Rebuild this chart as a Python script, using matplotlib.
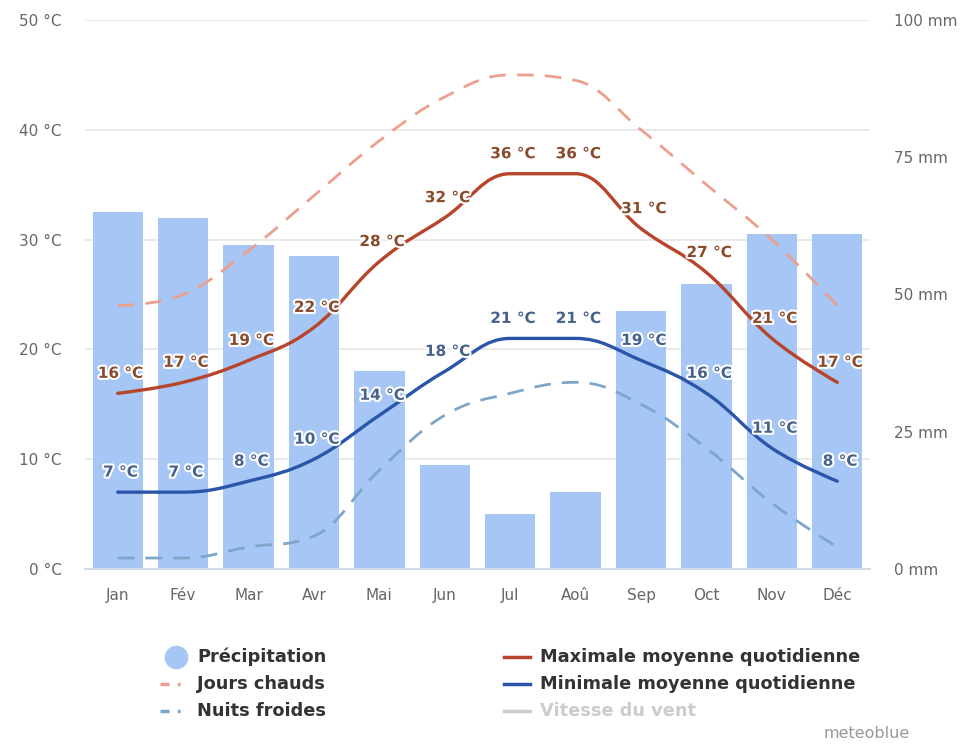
import matplotlib
matplotlib.use("Agg")
import matplotlib.pyplot as plt
from matplotlib.path import Path
from matplotlib.patches import PathPatch
from matplotlib.lines import Line2D
import matplotlib.patheffects as pe

# --- Climate data -------------------------------------------------------
months = ["Jan", "Fév", "Mar", "Avr", "Mai", "Jun",
          "Jul", "Aoû", "Sep", "Oct", "Nov", "Déc"]
precip_mm = [65, 64, 59, 57, 36, 19, 10, 14, 47, 52, 61, 61]
temp_max = [16, 17, 19, 22, 28, 32, 36, 36, 31, 27, 21, 17]
temp_min = [7, 7, 8, 10, 14, 18, 21, 21, 19, 16, 11, 8]
hot_days = [24, 25, 29, 34, 39, 43, 45, 44.5, 40, 35, 30, 24]
cold_nights = [1, 1, 2, 3, 9, 14, 16, 17, 15, 11, 6, 2]

temp_ticks = [0, 10, 20, 30, 40, 50]
precip_ticks = [0, 25, 50, 75, 100]

C_BAR = "#a6c6f6"
C_MAX = "#b8452b"
C_MIN = "#2b55a8"
C_HOT = "#eba08e"
C_COLD = "#7ea6c9"
C_MAX_TXT = "#8a4a2c"
C_MIN_TXT = "#46618c"
C_TICK = "#666666"
C_LEG = "#333333"


def spline_path(xs, ys, smoothing=1.5):
    """Smooth curve through the points, built from cubic Bezier segments."""
    n = len(xs)
    denom = smoothing + 1
    conts = []
    for i in range(n):
        x, y = xs[i], ys[i]
        if 0 < i < n - 1:
            lx, ly = xs[i - 1], ys[i - 1]
            nx, ny = xs[i + 1], ys[i + 1]
            lcx = (smoothing * x + lx) / denom
            lcy = (smoothing * y + ly) / denom
            rcx = (smoothing * x + nx) / denom
            rcy = (smoothing * y + ny) / denom
            corr = ((rcy - lcy) * (rcx - x)) / (rcx - lcx) + y - rcy
            lcy += corr
            rcy += corr
            if lcy > ly and lcy > y:
                lcy = max(ly, y)
                rcy = 2 * y - lcy
            elif lcy < ly and lcy < y:
                lcy = min(ly, y)
                rcy = 2 * y - lcy
            if rcy > ny and rcy > y:
                rcy = max(ny, y)
                lcy = 2 * y - rcy
            elif rcy < ny and rcy < y:
                rcy = min(ny, y)
                lcy = 2 * y - rcy
            conts.append(((lcx, lcy), (rcx, rcy)))
        else:
            conts.append(((x, y), (x, y)))
    verts = [(xs[0], ys[0])]
    codes = [Path.MOVETO]
    for i in range(1, n):
        verts += [conts[i - 1][1], conts[i][0], (xs[i], ys[i])]
        codes += [Path.CURVE4] * 3
    return Path(verts, codes)


W, H = 968, 744
fig = plt.figure(figsize=(W / 100, H / 100), dpi=100)
fig.patch.set_facecolor("white")

left, right = 85 / W, 870 / W
bottom, top = 1 - 569 / H, 1 - 20 / H

# Temperature scale with grid (bottom layer)
ax = fig.add_axes([left, bottom, right - left, top - bottom])
# Precipitation bars (middle layer)
ax2 = ax.twinx()
# Temperature curves (top layer)
ax3 = ax.twinx()

x = list(range(len(months)))

ax.set_xlim(-0.5, len(months) - 0.5)
ax.set_ylim(0, 50)
ax.set_yticks(temp_ticks)
ax.grid(axis="y", color="#e6e6e6", linewidth=1.2)
ax.set_axisbelow(True)

ax2.bar(x, precip_mm, width=0.77, color=C_BAR, zorder=2)
ax2.set_ylim(0, 100)
ax2.set_yticks(precip_ticks)

ax3.set_ylim(0, 50)
ax3.yaxis.set_visible(False)

series = [
    (hot_days, C_HOT, 2.0, (6, 4)),
    (cold_nights, C_COLD, 2.0, (6, 4)),
    (temp_max, C_MAX, 2.4, None),
    (temp_min, C_MIN, 2.4, None),
]
for vals, col, lw, dash in series:
    patch = PathPatch(spline_path(x, vals), fill=False, edgecolor=col,
                      linewidth=lw, capstyle="round", zorder=3)
    if dash is not None:
        patch.set_linestyle((0, dash))
        patch.set_capstyle("butt")
    ax3.add_patch(patch)

halo = [pe.withStroke(linewidth=3, foreground="white")]
for vals, col in ((temp_max, C_MAX_TXT), (temp_min, C_MIN_TXT)):
    for xi, v in zip(x, vals):
        ax3.annotate(f"{v} °C", (xi, v), xytext=(2, 9),
                     textcoords="offset points", ha="center", va="bottom",
                     fontsize=11, fontweight="bold", color=col,
                     path_effects=halo, zorder=5)

# Axis labels and frame
ax.set_xticks(x)
ax.set_xticklabels(months, fontsize=11, color=C_TICK)
ax.set_yticklabels([f"{t} °C" for t in temp_ticks], fontsize=11, color=C_TICK)
ax2.set_yticklabels([f"{t} mm" for t in precip_ticks], fontsize=11, color=C_TICK)
ax.tick_params(axis="both", length=0)
ax.tick_params(axis="x", pad=14)
ax.tick_params(axis="y", pad=17)
ax2.tick_params(axis="y", length=0, pad=17)
for a in (ax, ax2, ax3):
    for s in ("top", "left", "right"):
        a.spines[s].set_visible(False)
    a.spines["bottom"].set_color("#d3dbe8")
    a.spines["bottom"].set_linewidth(1.2)


# Legend
def fx(px):
    return px / W


def fy(py):
    return 1 - py / H


rows = [657, 684, 711]
fig.add_artist(Line2D([fx(176)], [fy(rows[0])], marker="o", markersize=16,
                      color=C_BAR, linestyle="none", transform=fig.transFigure))
for yy, col in ((rows[1], C_HOT), (rows[2], C_COLD)):
    fig.add_artist(Line2D([fx(160), fx(190)], [fy(yy), fy(yy)], color=col,
                          linewidth=2.5, dashes=(2.6, 2.4, 0.8, 10),
                          transform=fig.transFigure))
for yy, col in ((rows[0], C_MAX), (rows[1], C_MIN), (rows[2], "#cccccc")):
    fig.add_artist(Line2D([fx(504), fx(530)], [fy(yy), fy(yy)], color=col,
                          linewidth=2.5, transform=fig.transFigure))

left_labels = ["Précipitation", "Jours chauds", "Nuits froides"]
right_labels = ["Maximale moyenne quotidienne", "Minimale moyenne quotidienne",
                "Vitesse du vent"]
right_colors = [C_LEG, C_LEG, "#cccccc"]
for yy, t in zip(rows, left_labels):
    fig.text(fx(197), fy(yy), t, fontsize=12.8, fontweight="bold",
             color=C_LEG, ha="left", va="center")
for yy, t, c in zip(rows, right_labels, right_colors):
    fig.text(fx(540), fy(yy), t, fontsize=12.8, fontweight="bold",
             color=c, ha="left", va="center")

fig.text(fx(910), fy(733), "meteoblue", fontsize=11.5, color="#999999",
         ha="right", va="center")

fig.savefig("out.png", dpi=100)
